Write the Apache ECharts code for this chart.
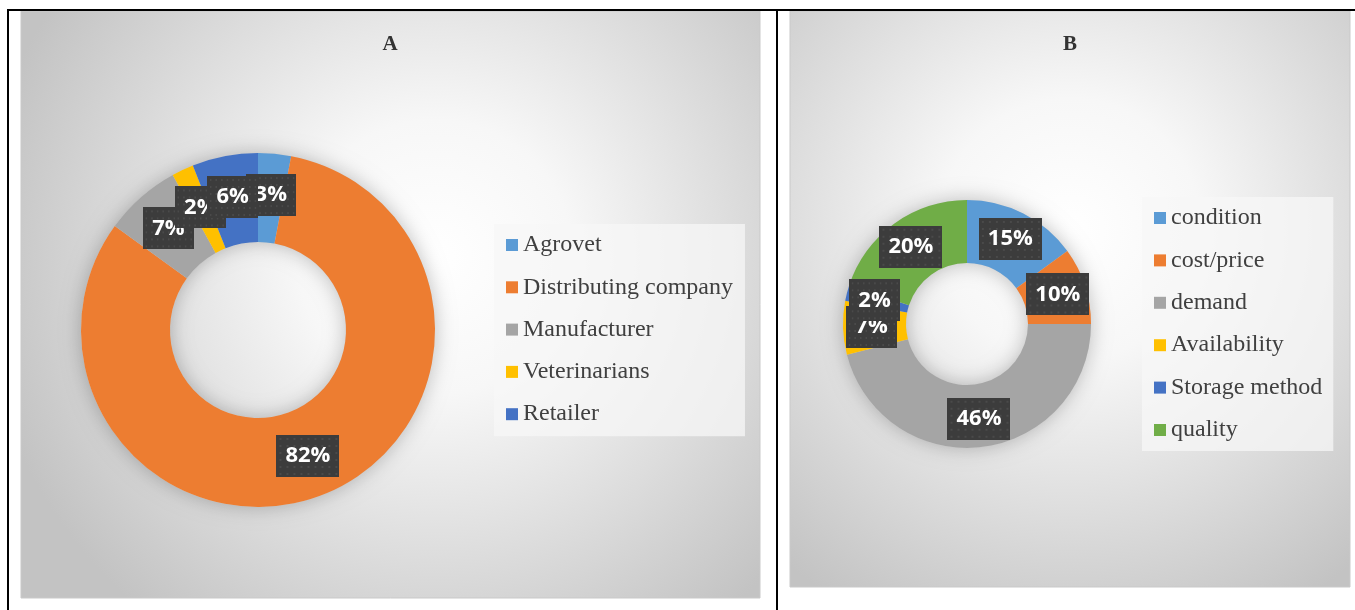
<!DOCTYPE html>
<html>
<head>
<meta charset="utf-8">
<title>Donut charts A and B</title>
<script src="https://cdn.jsdelivr.net/npm/echarts@6/dist/echarts.min.js"></script>
<style>
  html, body { margin: 0; padding: 0; background: #ffffff; }
  #chart { width: 1355px; height: 610px; }
</style>
</head>
<body>
<div id="chart"></div>
<script>
// Panel A: supply source shares (%)
const categoriesA = ['Agrovet', 'Distributing company', 'Manufacturer', 'Veterinarians', 'Retailer'];
const valuesA = [3, 82, 7, 2, 6];
const colorsA = ['#5B9BD5', '#ED7D31', '#A5A5A5', '#FFC000', '#4472C4'];

// Panel B: purchase criteria shares (%)
const categoriesB = ['condition', 'cost/price', 'demand', 'Availability', 'Storage method', 'quality'];
const valuesB = [15, 10, 46, 7, 2, 20];
const colorsB = ['#5B9BD5', '#ED7D31', '#A5A5A5', '#FFC000', '#4472C4', '#70AD47'];

const titles = ['A', 'B'];

// Dark dotted texture for the value tags
function dotTexture(w, h) {
  const c = document.createElement('canvas');
  c.width = w; c.height = h;
  const g = c.getContext('2d');
  g.fillStyle = '#3c3c3c';
  g.fillRect(0, 0, w, h);
  g.fillStyle = '#4a4a4a';
  for (let y = 3; y < h; y += 7) {
    for (let x = 3; x < w; x += 7) {
      g.fillRect(x, y, 2, 2);
    }
  }
  return c;
}
const tagTexture = dotTexture(63, 42);

const serif = '"Liberation Serif", "Times New Roman", serif';

function panelFill(cx, cy) {
  return new echarts.graphic.RadialGradient(cx, cy, 0.78, [
    { offset: 0, color: '#ffffff' },
    { offset: 0.3, color: '#f7f7f7' },
    { offset: 1, color: '#c3c3c3' }
  ]);
}

function valueLabel() {
  return {
    show: true,
    position: 'inside',
    formatter: p => p.value + '%',
    color: '#ffffff',
    fontFamily: '"Open Sans", sans-serif',
    fontWeight: 'bold',
    fontSize: 22,
    lineHeight: 24,
    padding: [9, 9],
    backgroundColor: { image: tagTexture },
    shadowBlur: 6,
    shadowColor: 'rgba(0,0,0,0.45)',
    shadowOffsetX: 2,
    shadowOffsetY: 3
  };
}

function donut(names, values, colors, center, radius) {
  return {
    type: 'pie',
    center: center,
    radius: radius,
    startAngle: 90,
    clockwise: true,
    z: 3,
    avoidLabelOverlap: false,
    label: valueLabel(),
    labelLine: { show: false },
    labelLayout: { hideOverlap: false },
    emphasis: { disabled: true },
    itemStyle: { borderWidth: 0 },
    data: names.map((n, i) => ({ name: n, value: values[i], itemStyle: { color: colors[i] } }))
  };
}

// soft halo under each ring
function halo(center, radius) {
  return {
    type: 'pie',
    center: center,
    radius: radius,
    silent: true,
    z: 2,
    label: { show: false },
    labelLine: { show: false },
    emphasis: { disabled: true },
    itemStyle: { color: '#d0d0d0', shadowBlur: 20, shadowColor: 'rgba(0,0,0,0.25)' },
    data: [{ name: '', value: 1 }]
  };
}

function legendFor(names, left, top, gap, pad) {
  return {
    orient: 'vertical',
    left: left,
    top: top,
    data: names,
    icon: 'rect',
    itemWidth: 12,
    itemHeight: 12,
    itemGap: gap,
    padding: pad,
    selectedMode: false,
    backgroundColor: 'rgba(247,247,247,0.75)',
    textStyle: { fontFamily: serif, fontSize: 24, lineHeight: 26, color: '#404040' }
  };
}

function heading(text, x) {
  return {
    type: 'text', z: 10, silent: true,
    style: {
      text: text, x: x, y: 45,
      align: 'center', verticalAlign: 'middle',
      font: 'bold 21px ' + serif,
      fill: '#333333'
    }
  };
}

const chart = echarts.init(document.getElementById('chart'), null, { renderer: 'canvas' });

chart.setOption({
  animation: false,
  backgroundColor: '#ffffff',
  graphic: {
    elements: [
      { type: 'rect', z: -5, silent: true, shape: { x: 21, y: 11, width: 739, height: 587 },
        style: { fill: panelFill(0.56, 0.42), stroke: '#c9c9c9', lineWidth: 1 } },
      { type: 'rect', z: -5, silent: true, shape: { x: 790, y: 11, width: 560, height: 576 },
        style: { fill: panelFill(0.5, 0.38), stroke: '#c9c9c9', lineWidth: 1 } },
      // table rules
      { type: 'rect', z: 10, silent: true, shape: { x: 7, y: 9, width: 1348, height: 2 }, style: { fill: '#000000' } },
      { type: 'rect', z: 10, silent: true, shape: { x: 7, y: 9, width: 2, height: 601 }, style: { fill: '#000000' } },
      { type: 'rect', z: 10, silent: true, shape: { x: 776, y: 9, width: 2, height: 601 }, style: { fill: '#000000' } },
      heading(titles[0], 390),
      heading(titles[1], 1070)
    ]
  },
  legend: [
    legendFor(categoriesA, 494, 224, 16.3, [8, 12, 9, 12]),
    legendFor(categoriesB, 1142, 197, 16.4, [8, 11, 8, 12])
  ],
  series: [
    halo([258, 330], [88, 177]),
    donut(categoriesA, valuesA, colorsA, [258, 330], [88, 177]),
    halo([967, 324], [61, 124]),
    donut(categoriesB, valuesB, colorsB, [967, 324], [61, 124])
  ]
});
</script>
</body>
</html>
